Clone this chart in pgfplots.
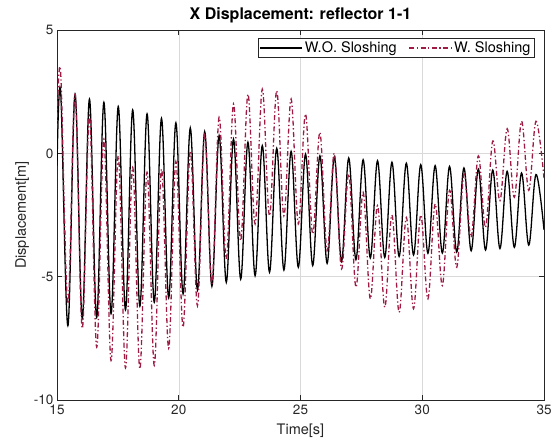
\documentclass[border=0pt]{standalone}
\usepackage{fontspec}
\setmainfont{TeX Gyre Heros}
\usepackage{pgfplots}
\pgfplotsset{compat=1.18}
\definecolor{wred}{RGB}{158,28,68}
\definecolor{axgray}{RGB}{38,38,38}
\begin{document}
\begin{tikzpicture}
\begin{axis}[name=ax, scale only axis, width=487pt, height=370pt,
 xmin=15, xmax=35, ymin=-10, ymax=5,
 xtick={15,20,25,30,35}, ytick={-10,-5,0,5},
 grid=major, major grid style={black!15, line width=0.5pt},
 tick align=inside, major tick length=5pt,
 axis line style={axgray, line width=0.6pt}, tick style={axgray, line width=0.6pt},
 ticklabel style={font=\fontsize{13.5}{15}\selectfont, text=axgray},
 xticklabel style={yshift=-1pt},
 /pgf/number format/assume math mode=true,
 xlabel={Time[s]}, ylabel={Displacement[m]},
 label style={font=\fontsize{14.5}{16}\selectfont, text=axgray},
 xlabel style={yshift=-3pt},
 ylabel style={yshift=-2pt},
 title={\textbf{X Displacement: reflector 1-1}},
 title style={font=\fontsize{16}{18}\selectfont, yshift=-3pt},
 legend columns=2,
 legend style={at={(0.98,0.978)}, anchor=north east, font=\fontsize{14.5}{16}\selectfont, draw=axgray, inner sep=1.5pt,
   /tikz/every even column/.append style={column sep=10pt}},
 legend cell align=left,
 legend image code/.code={\draw[#1] (0pt,0pt) -- (42pt,0pt);},
]
\addplot[black, line width=1.3pt, smooth, tension=0.6] coordinates {
(15.00,-0.5)
(15.150,2.5) (15.446,-6.99)
(15.742,2.4) (16.037,-6.7)
(16.333,2.2) (16.629,-6.65)
(16.925,2.07) (17.220,-6.5)
(17.516,1.9) (17.812,-6.35)
(18.108,1.76) (18.403,-6.2)
(18.699,1.6) (18.995,-6.04)
(19.291,1.42) (19.586,-5.86)
(19.882,1.24) (20.178,-5.7)
(20.474,1.03) (20.769,-5.54)
(21.065,0.88) (21.361,-5.39)
(21.657,0.72) (21.952,-5.23)
(22.248,0.58) (22.544,-5.1)
(22.840,0.45) (23.135,-4.96)
(23.431,0.31) (23.727,-4.82)
(24.023,0.2) (24.318,-4.73)
(24.614,0.08) (24.910,-4.62)
(25.206,-0.03) (25.501,-4.55)
(25.797,-0.1) (26.093,-4.46)
(26.389,-0.14) (26.684,-4.38)
(26.980,-0.19) (27.276,-4.31)
(27.572,-0.26) (27.867,-4.24)
(28.163,-0.3) (28.459,-4.22)
(28.755,-0.36) (29.050,-4.18)
(29.346,-0.4) (29.642,-4.12)
(29.938,-0.46) (30.233,-4.05)
(30.529,-0.5) (30.825,-4.04)
(31.121,-0.53) (31.416,-4.0)
(31.712,-0.59) (32.008,-3.95)
(32.304,-0.64) (32.599,-3.92)
(32.895,-0.68) (33.191,-3.86)
(33.487,-0.73) (33.782,-3.81)
(34.078,-0.8) (34.374,-3.72)
(34.670,-0.86) (35.0,-3.1)
};
\addlegendentry{W.O. Sloshing}
\addplot[wred, line width=1.3pt, smooth, tension=0.6, dash pattern=on 5pt off 2.5pt on 1.3pt off 2.5pt] coordinates {
(15.0,1.0)
(15.150,3.28) (15.446,-6.1)
(15.742,2.4) (16.037,-7.1)
(16.333,1.53) (16.629,-7.86)
(16.925,0.58) (17.220,-8.4)
(17.516,-0.1) (17.812,-8.7)
(18.108,-0.57) (18.403,-8.74)
(18.699,-0.77) (18.995,-8.6)
(19.291,-0.64) (19.586,-7.9)
(19.882,-0.33) (20.178,-7.05)
(20.474,0.1) (20.769,-6.18)
(21.065,0.75) (21.361,-5.3)
(21.657,1.46) (21.952,-4.28)
(22.248,2.0) (22.544,-3.54)
(22.840,2.4) (23.135,-2.86)
(23.431,2.6) (23.727,-2.53)
(24.023,2.54) (24.318,-2.53)
(24.614,2.2) (24.910,-2.86)
(25.206,1.6) (25.501,-3.27)
(25.797,0.85) (26.093,-3.95)
(26.389,0.0) (26.684,-4.69)
(26.980,-0.84) (27.276,-5.43)
(27.572,-1.58) (27.867,-5.9)
(28.163,-2.12) (28.459,-6.24)
(28.755,-2.5) (29.050,-6.45)
(29.346,-2.6) (29.642,-6.3)
(29.938,-2.5) (30.233,-5.9)
(30.529,-2.05) (30.825,-5.36)
(31.121,-1.5) (31.416,-4.62)
(31.712,-0.85) (32.008,-3.4)
(32.304,-0.1) (32.599,-3.0)
(32.895,0.5) (33.191,-1.92)
(33.487,1.0) (33.782,-1.78)
(34.078,1.3) (34.374,-1.5)
(34.670,1.3) (35.0,-1.0)
};
\addlegendentry{W. Sloshing}
\node[anchor=south west, inner sep=0pt, font=\fontsize{11}{12}\selectfont, text=axgray, xshift=3pt, yshift=4pt] at (rel axis cs:0,1) {×10\textsuperscript{-5}};
\end{axis}
\pgfresetboundingbox
\path (ax.south west) ++(-57pt,-45pt) coordinate (bl);
\path (ax.north east) ++(7pt,30pt) coordinate (tr);
\path (bl) rectangle (tr);
\end{tikzpicture}
\end{document}
